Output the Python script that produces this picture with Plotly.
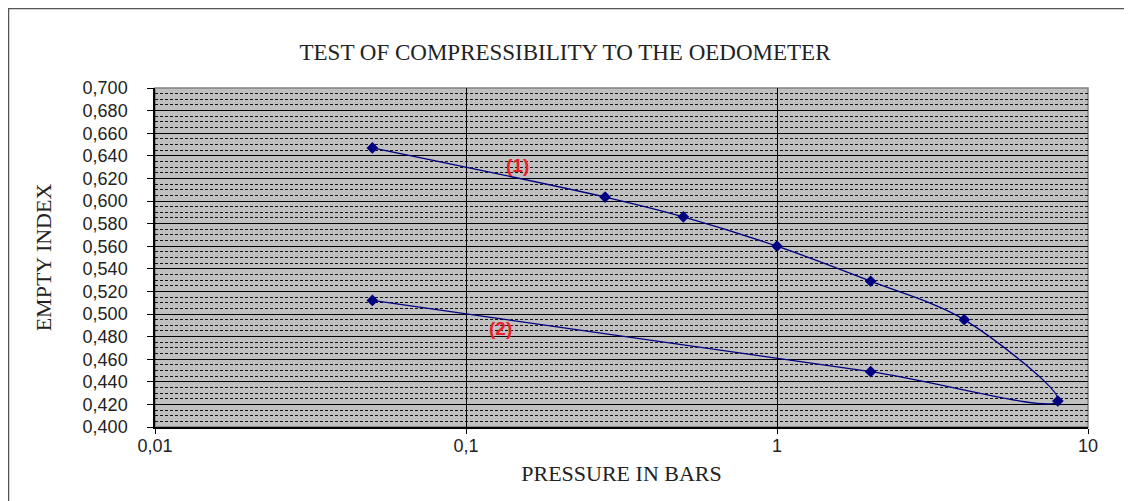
import math
import plotly.graph_objects as go

# Data (one continuous loading / unloading path)
pressure = [0.05, 0.28, 0.5, 1, 2, 4, 8, 2, 0.05]
void_index = [0.647, 0.6035, 0.586, 0.560, 0.529, 0.495, 0.423, 0.449, 0.512]

y_ticks = [0.40, 0.42, 0.44, 0.46, 0.48, 0.50, 0.52, 0.54, 0.56, 0.58, 0.60,
           0.62, 0.64, 0.66, 0.68, 0.70]
x_ticks = [0.01, 0.1, 1, 10]
x_tick_text = ["0,01", "0,1", "1", "10"]

labels = ["(1)", "(2)"]
label_x = [0.146, 0.129]
label_y = [0.631, 0.487]

W, H = 1132, 501
OFF = 8  # page body margin
L, R, T, B = 155 - OFF, 44 + OFF, 88 - OFF, 74 + OFF
pw, ph = W - L - R, H - T - B

fig = go.Figure()
fig.add_trace(go.Scatter(
    x=pressure, y=void_index, mode="lines+markers",
    line=dict(color="#000080", width=1.3, shape="spline", smoothing=0.9),
    marker=dict(symbol="diamond", size=9, color="#000080"),
    showlegend=False, hoverinfo="x+y",
))

for t, xx, yy in zip(labels, label_x, label_y):
    fig.add_annotation(x=math.log10(xx), y=yy, xref="x", yref="y", text="<b>%s</b>" % t,
                       showarrow=False, xanchor="center", yanchor="middle",
                       font=dict(family="Liberation Sans, Arial", size=19, color="#E8202A"))

# plot-area border (top/right in gray)
fig.add_shape(type="rect", xref="paper", yref="paper", x0=0, x1=1, y0=0, y1=1,
              line=dict(color="#808080", width=1.5), layer="between")
# outer chart frame
fig.add_shape(type="rect", xref="paper", yref="paper",
              x0=(0 - L) / pw, x1=(W + 20 - L) / pw,
              y0=-0.5, y1=(H - 0 - B) / ph,
              line=dict(color="#555555", width=2.5), layer="above")

fig.update_layout(
    width=W, height=H,
    margin=dict(l=L, r=R, t=T, b=B),
    paper_bgcolor="white", plot_bgcolor="#C0C0C0",
    separators=", ",
    title=dict(text="TEST OF COMPRESSIBILITY TO THE OEDOMETER",
               x=(565 - OFF) / W, xref="container", xanchor="center",
               y=1 - (52 - OFF) / H, yanchor="middle", yref="container",
               font=dict(family="Liberation Serif, Times New Roman", size=23, color="#222222")),
    font=dict(family="Liberation Sans, Arial", color="#222222"),
)

fig.update_xaxes(
    type="log", range=[-2, 1],
    tickvals=x_ticks, ticktext=x_tick_text,
    tickfont=dict(size=18, family="Liberation Sans, Arial", color="#222222"),
    showgrid=True, gridcolor="black", gridwidth=1,
    showline=True, linecolor="black", linewidth=1.5,
    ticks="outside", ticklen=5, tickcolor="black",
    ticklabelstandoff=-3,
    zeroline=False,
    title=dict(text="PRESSURE IN BARS", standoff=10,
               font=dict(family="Liberation Serif, Times New Roman", size=22, color="#222222")),
)
fig.update_yaxes(
    range=[0.4, 0.7],
    tickvals=y_ticks, tickformat=".3f",
    tickfont=dict(size=18, family="Liberation Sans, Arial", color="#222222"),
    showgrid=True, gridcolor="black", gridwidth=1,
    minor=dict(dtick=0.005, showgrid=True, gridcolor="#111111", griddash="3px,2px", gridwidth=1),
    showline=True, linecolor="black", linewidth=1.5,
    ticks="outside", ticklen=6, tickcolor="black",
    ticklabelstandoff=16,
    zeroline=False,
    title=dict(text="EMPTY INDEX", standoff=25,
               font=dict(family="Liberation Serif, Times New Roman", size=22, color="#222222")),
)

fig.write_html("out.html")
